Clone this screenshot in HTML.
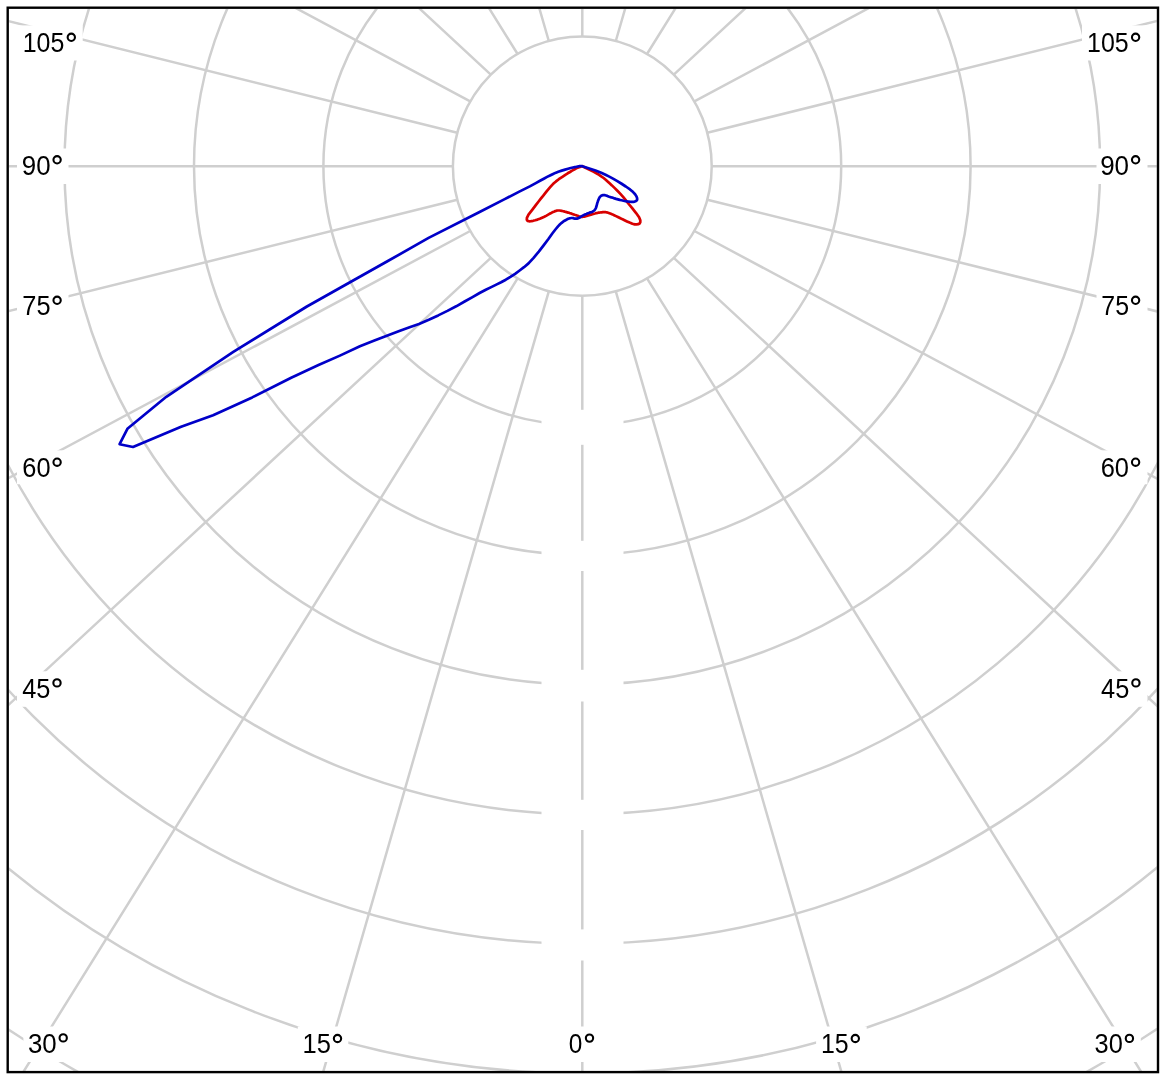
<!DOCTYPE html><html><head><meta charset="utf-8"><style>html,body{margin:0;padding:0;background:#fff;width:1165px;height:1080px;overflow:hidden}svg{display:block;will-change:transform}text{font-family:"Liberation Sans",sans-serif}</style></head><body>
<svg width="1165" height="1080" viewBox="0 0 1165 1080">
<defs><clipPath id="c"><rect x="8.9" y="8.9" width="1147.9" height="1062.0"/></clipPath></defs>
<g clip-path="url(#c)">
<path d="M582.3 295.8L582.3 2295.8M615.8 291.4L1171.2 2212.7M647.0 278.4L1704.4 1976.1M673.8 257.8L2140.6 1617.5M694.4 231.0L2457.7 1174.7M707.3 199.7L2648.4 681.9M711.8 166.2L2711.8 166.2M707.3 132.7L2648.4 -349.5M694.4 101.4L2457.7 -842.3M673.8 74.6L2140.6 -1285.1M647.0 54.0L1704.4 -1643.7M615.8 41.0L1171.2 -1880.3M582.3 36.6L582.3 -1963.4M548.8 41.0L-6.6 -1880.3M517.6 54.0L-539.8 -1643.7M490.8 74.6L-976.0 -1285.1M470.2 101.4L-1293.1 -842.3M457.3 132.7L-1483.8 -349.5M452.8 166.2L-1547.2 166.2M457.3 199.7L-1483.8 681.9M470.2 231.0L-1293.1 1174.7M490.8 257.8L-976.0 1617.5M517.6 278.4L-539.8 1976.1M548.8 291.4L-6.6 2212.7" stroke="#cfcfcf" stroke-width="2.5" fill="none"/>
<ellipse cx="582.3" cy="166.2" rx="129.45" ry="129.6" fill="#fff"/>
<ellipse cx="582.3" cy="166.2" rx="129.4" ry="129.6" stroke="#cfcfcf" stroke-width="2.5" fill="none"/>
<ellipse cx="582.3" cy="166.2" rx="258.9" ry="259.2" stroke="#cfcfcf" stroke-width="2.5" fill="none"/>
<ellipse cx="582.3" cy="166.2" rx="388.3" ry="388.8" stroke="#cfcfcf" stroke-width="2.5" fill="none"/>
<ellipse cx="582.3" cy="166.2" rx="517.8" ry="518.4" stroke="#cfcfcf" stroke-width="2.5" fill="none"/>
<ellipse cx="582.3" cy="166.2" rx="647.2" ry="648.0" stroke="#cfcfcf" stroke-width="2.5" fill="none"/>
<ellipse cx="582.3" cy="166.2" rx="776.7" ry="777.6" stroke="#cfcfcf" stroke-width="2.5" fill="none"/>
<ellipse cx="582.3" cy="166.2" rx="906.1" ry="907.2" stroke="#cfcfcf" stroke-width="2.5" fill="none"/>
<ellipse cx="582.3" cy="166.2" rx="1035.6" ry="1036.8" stroke="#cfcfcf" stroke-width="2.5" fill="none"/>
<ellipse cx="582.3" cy="166.2" rx="1165.0" ry="1166.4" stroke="#cfcfcf" stroke-width="2.5" fill="none"/>
<rect x="541.5" y="409.8" width="82" height="35.0" fill="#fff"/>
<rect x="541.5" y="540.8" width="82" height="30.2" fill="#fff"/>
<rect x="541.5" y="669.8" width="82" height="31.7" fill="#fff"/>
<rect x="541.5" y="799.8" width="82" height="30.2" fill="#fff"/>
<rect x="541.5" y="929.4" width="82" height="31.1" fill="#fff"/>
<rect x="17" y="25.4" width="65.7" height="35.1" fill="#fff"/>
<rect x="17" y="148.5" width="51.5" height="35.5" fill="#fff"/>
<rect x="17" y="288.5" width="51.5" height="35.5" fill="#fff"/>
<rect x="17" y="450.35" width="51.5" height="33.9" fill="#fff"/>
<rect x="17" y="671.3" width="51.5" height="35.5" fill="#fff"/>
<rect x="1082" y="25.4" width="65.5" height="35.1" fill="#fff"/>
<rect x="1096.5" y="148.5" width="51.0" height="35.5" fill="#fff"/>
<rect x="1096.5" y="288.5" width="51.0" height="35.5" fill="#fff"/>
<rect x="1096.5" y="450.35" width="51.0" height="33.9" fill="#fff"/>
<rect x="1096.5" y="671.3" width="51.0" height="35.5" fill="#fff"/>
<rect x="23.4" y="1026.5" width="51.5" height="35.5" fill="#fff"/>
<rect x="297.8" y="1026.5" width="50.5" height="35.5" fill="#fff"/>
<rect x="563.5" y="1026.5" width="37.0" height="35.5" fill="#fff"/>
<rect x="816.1" y="1026.5" width="50.6" height="35.5" fill="#fff"/>
<rect x="1089.3" y="1026.5" width="51.5" height="35.5" fill="#fff"/>
</g>
<text transform="translate(22.72,52.10) scale(0.8753,1)" font-size="28.5" fill="#000">105</text>
<circle cx="71.30" cy="37.30" r="3.65" stroke="#000" stroke-width="2.1" fill="none"/>
<text transform="translate(21.78,175.30) scale(0.9079,1)" font-size="28.5" fill="#000">90</text>
<circle cx="57.10" cy="159.80" r="3.65" stroke="#000" stroke-width="2.1" fill="none"/>
<text transform="translate(22.29,314.80) scale(0.8910,1)" font-size="28.5" fill="#000">75</text>
<circle cx="57.10" cy="300.30" r="3.65" stroke="#000" stroke-width="2.1" fill="none"/>
<text transform="translate(22.29,476.60) scale(0.8910,1)" font-size="28.5" fill="#000">60</text>
<circle cx="57.10" cy="462.20" r="3.65" stroke="#000" stroke-width="2.1" fill="none"/>
<text transform="translate(22.20,697.80) scale(0.8908,1)" font-size="28.5" fill="#000">45</text>
<circle cx="57.00" cy="682.90" r="3.65" stroke="#000" stroke-width="2.1" fill="none"/>
<text transform="translate(1087.02,52.20) scale(0.8753,1)" font-size="28.5" fill="#000">105</text>
<circle cx="1135.60" cy="37.30" r="3.65" stroke="#000" stroke-width="2.1" fill="none"/>
<text transform="translate(1100.17,175.30) scale(0.9113,1)" font-size="28.5" fill="#000">90</text>
<circle cx="1135.60" cy="159.80" r="3.65" stroke="#000" stroke-width="2.1" fill="none"/>
<text transform="translate(1101.31,314.80) scale(0.8740,1)" font-size="28.5" fill="#000">75</text>
<circle cx="1135.60" cy="300.30" r="3.65" stroke="#000" stroke-width="2.1" fill="none"/>
<text transform="translate(1100.69,476.60) scale(0.8944,1)" font-size="28.5" fill="#000">60</text>
<circle cx="1135.60" cy="462.20" r="3.65" stroke="#000" stroke-width="2.1" fill="none"/>
<text transform="translate(1101.10,697.80) scale(0.8908,1)" font-size="28.5" fill="#000">45</text>
<circle cx="1135.90" cy="682.90" r="3.65" stroke="#000" stroke-width="2.1" fill="none"/>
<text transform="translate(27.88,1053.10) scale(0.9079,1)" font-size="28.5" fill="#000">30</text>
<circle cx="63.20" cy="1037.90" r="3.65" stroke="#000" stroke-width="2.1" fill="none"/>
<text transform="translate(302.58,1053.30) scale(0.8947,1)" font-size="28.5" fill="#000">15</text>
<circle cx="337.50" cy="1038.50" r="3.65" stroke="#000" stroke-width="2.1" fill="none"/>
<text transform="translate(568.83,1053.40) scale(0.8561,1)" font-size="28.5" fill="#000">0</text>
<circle cx="589.50" cy="1038.10" r="3.65" stroke="#000" stroke-width="2.1" fill="none"/>
<text transform="translate(821.02,1053.30) scale(0.8737,1)" font-size="28.5" fill="#000">15</text>
<circle cx="855.30" cy="1038.50" r="3.65" stroke="#000" stroke-width="2.1" fill="none"/>
<text transform="translate(1094.59,1052.80) scale(0.8910,1)" font-size="28.5" fill="#000">30</text>
<circle cx="1129.40" cy="1038.40" r="3.65" stroke="#000" stroke-width="2.1" fill="none"/>
<path d="M582.3 166.2L593.8 171.8L598.1 174.2L601.2 176.3L603.6 178.0L605.7 179.7L607.6 181.4L609.6 183.3L611.9 185.4L614.5 187.9L617.4 190.8L620.4 193.9L623.3 197.1L625.7 200.1L628.3 203.5L632.0 207.9L635.9 212.8L639.1 217.3L640.3 220.3L640.3 222.2L639.6 223.6L638.3 224.2L636.6 224.4L634.7 224.4L632.4 223.8L629.6 222.6L627.0 221.4L624.5 220.2L622.1 219.1L619.9 218.0L617.9 217.0L616.0 216.1L614.1 215.2L612.5 214.4L610.9 213.8L609.4 213.2L608.1 212.7L606.8 212.4L605.8 212.2L604.7 212.2L603.7 212.2L602.8 212.2L601.9 212.3L601.0 212.4L600.1 212.5L599.2 212.6L598.3 212.7L597.5 212.9L596.6 213.1L595.8 213.3L595.0 213.5L594.1 213.7L593.3 214.0L592.5 214.2L591.7 214.4L590.9 214.7L590.0 214.9L589.2 215.2L588.3 215.4L587.5 215.6L586.6 215.9L585.8 216.1L584.9 216.4L584.1 216.6L583.2 216.8L582.3 217.0L581.4 217.0L580.5 216.9L579.7 216.6L578.8 216.3L578.0 215.9L577.1 215.6L576.3 215.3L575.4 215.0L574.6 214.8L573.8 214.5L573.0 214.2L572.2 213.9L571.4 213.6L570.5 213.3L569.7 213.1L568.9 212.8L568.1 212.6L567.3 212.4L566.5 212.1L565.7 211.9L564.9 211.7L564.0 211.4L563.2 211.2L562.4 211.0L561.5 210.8L560.6 210.7L559.7 210.5L558.8 210.5L557.7 210.5L556.6 210.7L555.3 211.1L553.9 211.7L552.3 212.3L550.6 213.3L548.6 214.4L546.5 215.6L544.3 216.7L542.1 217.7L539.8 218.7L537.5 219.6L535.2 220.3L533.1 220.8L531.0 221.2L529.1 221.3L527.6 220.9L526.8 219.8L526.9 217.9L528.5 214.7L532.6 209.4L535.6 205.4L538.4 201.7L541.0 198.4L543.3 195.6L545.2 193.2L547.0 190.9L548.7 188.9L550.4 186.9L552.0 185.1L553.8 183.3L556.0 181.4L558.8 179.2L562.4 176.8L565.3 174.8L567.7 173.3L570.0 172.0L571.7 170.9L573.1 170.1L574.2 169.5L575.1 169.0L575.8 168.6L576.3 168.3L576.8 168.0L580.7 166.7L580.6 166.7L580.6 166.7L580.5 166.6L580.5 166.6L580.4 166.6Z" stroke="#d80000" stroke-width="2.7" fill="none" stroke-linejoin="round"/>
<path d="M582.3 166.2L595.5 170.5L601.2 172.7L605.5 174.7L609.3 176.6L613.0 178.6L616.9 180.9L621.2 183.5L625.8 186.5L630.0 189.4L633.1 192.1L635.1 194.2L636.3 196.1L637.0 197.8L637.2 199.2L636.9 200.3L636.0 201.1L634.8 201.6L633.2 201.8L631.4 201.8L629.5 201.7L627.5 201.5L625.5 201.2L623.5 200.8L621.6 200.3L619.7 199.9L617.9 199.4L616.1 198.9L614.5 198.4L612.9 197.8L611.4 197.4L610.0 196.9L608.6 196.4L607.3 195.9L606.0 195.5L605.0 195.2L604.1 195.1L603.3 195.1L602.6 195.2L602.0 195.4L601.4 195.7L600.9 196.0L600.5 196.4L600.0 196.9L599.6 197.4L599.2 198.1L598.9 198.8L598.6 199.5L598.2 200.4L597.9 201.2L597.6 202.2L597.2 203.2L597.0 204.4L596.6 205.6L596.3 206.8L595.9 208.0L595.4 209.0L594.8 209.8L594.2 210.5L593.5 211.0L592.8 211.5L592.0 211.9L591.2 212.2L590.4 212.4L589.6 212.6L588.9 212.9L588.1 213.2L587.3 213.5L586.5 213.9L585.7 214.2L584.8 214.6L584.0 215.0L583.2 215.4L582.3 215.9L581.4 216.4L580.5 217.0L579.6 217.5L578.7 218.0L577.7 218.4L576.8 218.7L575.9 218.7L574.9 218.6L574.0 218.4L573.1 218.1L572.2 218.0L571.3 218.0L570.3 218.2L569.3 218.4L568.2 218.8L567.1 219.3L565.9 220.0L564.6 220.7L563.2 221.7L561.7 222.8L560.0 224.3L558.0 226.4L555.4 229.5L552.3 233.5L548.4 239.0L543.8 245.1L538.8 251.6L533.6 257.8L528.5 263.4L524.0 267.2L519.6 270.5L515.1 273.8L510.4 276.9L505.8 279.7L501.1 282.2L496.3 284.6L491.2 287.1L485.8 289.7L479.6 293.0L472.5 297.1L464.6 301.5L456.2 306.3L447.4 310.9L438.2 315.4L428.8 319.7L419.0 323.9L409.6 327.2L399.3 331.0L387.5 335.5L374.4 340.6L359.9 346.3L339.9 355.6L318.5 365.0L291.2 377.7L252.2 397.4L213.1 415.2L181.1 426.8L133.0 447.0L119.6 444.2L127.4 428.8L166.3 396.8L233.3 351.8L306.9 306.5L387.4 261.3L428.6 237.9L479.1 212.2L504.7 199.1L519.3 191.6L529.8 186.4L535.8 183.1L540.0 180.8L543.8 178.7L547.1 176.9L550.0 175.5L552.6 174.2L555.3 172.9L558.3 171.7L561.7 170.6L565.1 169.6L568.1 168.7L570.7 168.0L573.0 167.5L574.8 167.1L576.0 166.9L576.9 166.7L577.6 166.5L578.1 166.4L578.5 166.3L578.9 166.3L579.2 166.2Z" stroke="#0000c8" stroke-width="2.7" fill="none" stroke-linejoin="round"/>
<rect x="7.7" y="7.7" width="1150.3" height="1064.4" stroke="#000" stroke-width="2.4" fill="none"/>
</svg></body></html>
